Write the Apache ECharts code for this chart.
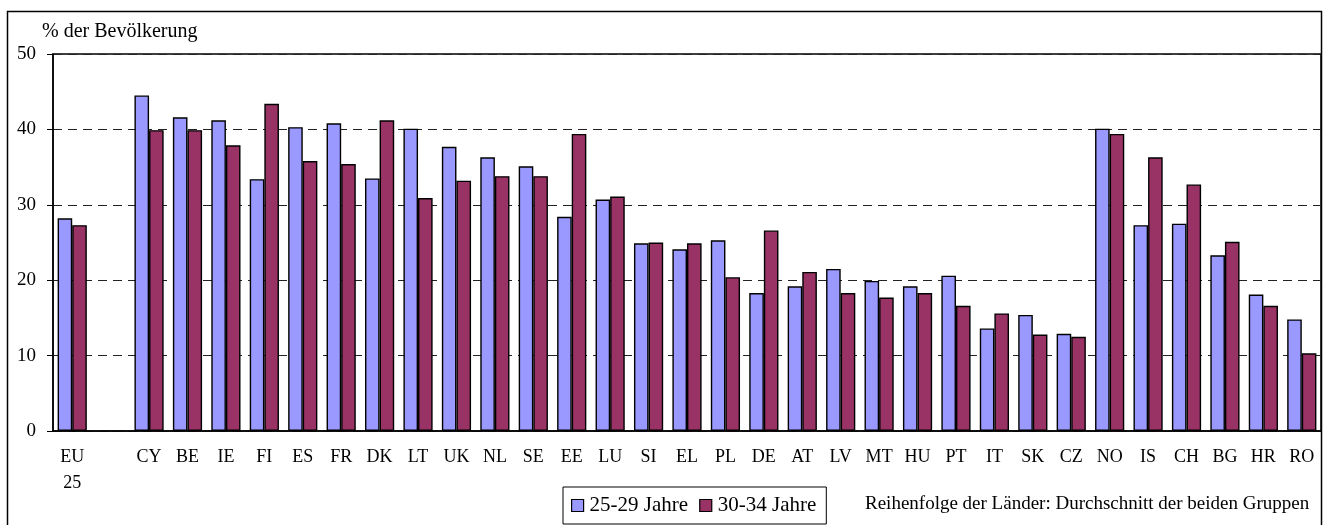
<!DOCTYPE html>
<html>
<head>
<meta charset="utf-8">
<script src="https://cdn.jsdelivr.net/npm/echarts@6/dist/echarts.min.js"></script>
<style>
    html, body { margin: 0; padding: 0; background: #fff; }
    #barCharts { width: 1324px; height: 525px; }
</style>
</head>
<body>
<div id="barCharts"></div>
<script>
// Länder (leere Kategorie = Lücke nach EU 25)
let countries = ["EU\n25", "", "CY", "BE", "IE", "FI", "ES", "FR", "DK", "LT", "UK", "NL", "SE", "EE", "LU",
    "SI", "EL", "PL", "DE", "AT", "LV", "MT", "HU", "PT", "IT", "SK", "CZ", "NO", "IS", "CH", "BG", "HR", "RO"];
// 25-29 Jahre
let age2529 = [28.2, null, 44.5, 41.6, 41.2, 33.4, 40.3, 40.8, 33.5, 40.1, 37.7, 36.3, 35.1, 28.4, 30.7,
    24.9, 24.1, 25.3, 18.3, 19.2, 21.5, 19.9, 19.2, 20.6, 13.6, 15.4, 12.9, 40.1, 27.3, 27.5, 23.3, 18.1, 14.8];
// 30-34 Jahre
let age3034 = [27.3, null, 39.9, 39.9, 37.9, 43.4, 35.8, 35.4, 41.2, 30.9, 33.2, 33.8, 33.8, 39.4, 31.1,
    25.0, 24.9, 20.4, 26.6, 21.1, 18.3, 17.7, 18.3, 16.6, 15.6, 12.8, 12.5, 39.4, 36.3, 32.7, 25.1, 16.6, 10.3];
let seriesNames = ["25-29 Jahre", "30-34 Jahre"];

let fontFamily = "'Liberation Serif', 'Times New Roman', serif";

let myBarCharts = echarts.init(document.getElementById("barCharts"));

let barOption = {
    animation: false,
    textStyle: { fontFamily: fontFamily, color: "#000" },
    grid: {
        left: 53,
        right: 3,
        top: 54,
        bottom: 94,
        show: true,
        borderColor: "#000",
        borderWidth: 1.5,
        backgroundColor: "transparent",
    },
    legend: {
        data: seriesNames,
        left: 563,
        top: 487,
        padding: [8, 10, 8, 8],
        itemGap: 11,
        itemWidth: 12,
        itemHeight: 12,
        itemStyle: { borderColor: "#000", borderWidth: 1.2 },
        icon: "rect",
        borderColor: "#000",
        borderWidth: 1,
        textStyle: { fontFamily: fontFamily, fontSize: 21, color: "#000", padding: [0, 0, 0, 1] },
    },
    graphic: [
        {
            // äußerer Rahmen
            type: "rect",
            shape: { x: 7.5, y: 11.5, width: 1314, height: 530 },
            style: { fill: "none", stroke: "#000", lineWidth: 1.5 },
            silent: true,
        },
        {
            type: "text",
            left: 865,
            top: 495,
            style: {
                text: "Reihenfolge der Länder: Durchschnitt der beiden Gruppen",
                font: "19px " + fontFamily,
                fill: "#000",
            },
        },
    ],
    xAxis: {
        type: "category",
        data: countries,
        axisLine: { lineStyle: { color: "#000", width: 1.5 } },
        axisTick: { length: 5, lineStyle: { color: "#000" } },
        axisLabel: {
            interval: 0,
            fontSize: 18,
            lineHeight: 26,
            margin: 13,
            color: "#000",
            fontFamily: fontFamily,
        },
    },
    yAxis: {
        type: "value",
        min: 0,
        max: 50,
        interval: 10,
        name: "% der Bevölkerung",
        nameLocation: "end",
        nameGap: 22,
        nameTextStyle: {
            fontFamily: fontFamily,
            fontSize: 20,
            color: "#000",
            align: "left",
            verticalAlign: "middle",
            padding: [0, 0, 0, -11],
        },
        axisLine: { show: true, lineStyle: { color: "#000", width: 1.5 } },
        axisTick: { show: true, length: 6, lineStyle: { color: "#000" } },
        axisLabel: { fontSize: 19, margin: 17, color: "#000", fontFamily: fontFamily },
        splitLine: { lineStyle: { color: "#222", type: [9, 6], width: 1 } },
    },
    series: [
        {
            name: seriesNames[0],
            type: "bar",
            data: age2529,
            barGap: "0%",
            barCategoryGap: "24%",
            itemStyle: { color: "#9999FF", borderColor: "#000", borderWidth: 1.4 },
        },
        {
            name: seriesNames[1],
            type: "bar",
            data: age3034,
            barGap: "0%",
            barCategoryGap: "24%",
            itemStyle: { color: "#993366", borderColor: "#000", borderWidth: 1.4 },
        },
    ],
};

myBarCharts.setOption(barOption);
</script>
</body>
</html>
